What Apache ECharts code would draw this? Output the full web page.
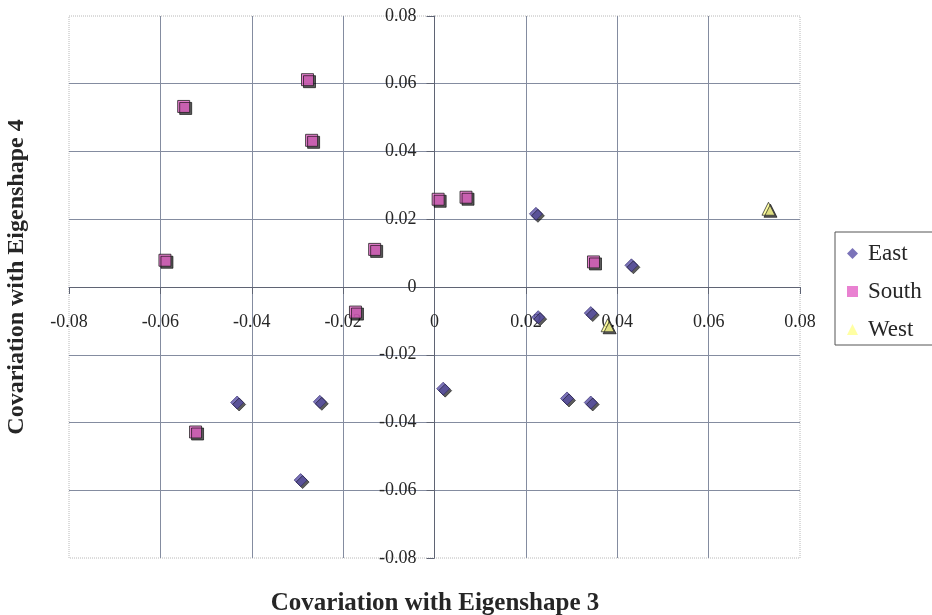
<!DOCTYPE html>
<html>
<head>
<meta charset="utf-8">
<script src="https://cdn.jsdelivr.net/npm/echarts@6/dist/echarts.min.js"></script>
<style>
  html, body { margin: 0; padding: 0; background: #fff; }
  #chart { width: 932px; height: 615px; }
</style>
</head>
<body>
<div id="chart"></div>
<script>
// Covariation scores per region: [eigenshape 3, eigenshape 4]
const eastPoints = [
  [0.0222, 0.0216], [0.0431, 0.0064], [0.0227, -0.0089], [0.0342, -0.0077],
  [0.0290, -0.0329], [0.0342, -0.0341], [0.0019, -0.0300], [-0.0432, -0.0341],
  [-0.0251, -0.0339], [-0.0293, -0.0570]
];
const southPoints = [
  [-0.0549, 0.0533], [-0.0278, 0.0612], [-0.0269, 0.0433], [-0.0590, 0.0079],
  [-0.0131, 0.0111], [0.0008, 0.0259], [0.0069, 0.0265], [0.0348, 0.0074],
  [-0.0173, -0.0074], [-0.0523, -0.0428]
];
const westPoints = [
  [0.0731, 0.0231], [0.0379, -0.0113]
];
const seriesNames = ['East', 'South', 'West'];
const axisMin = -0.08, axisMax = 0.08, axisStep = 0.02;
const xTitle = 'Covariation with Eigenshape 3';
const yTitle = 'Covariation with Eigenshape 4';

const serif = '"Liberation Serif", "Times New Roman", serif';
const gridLineColor = '#848ca0';
const axisColor = '#5f6474';
const textColor = '#262626';

// plot box
const plot = { left: 69, top: 16, width: 731, height: 542 };
// the axes cross at zero: shift each axis inward from its edge to the zero line
const zeroFrac = (0 - axisMin) / (axisMax - axisMin);
const yAxisShift = -plot.width * zeroFrac;
const xAxisShift = -plot.height * zeroFrac;

const shadow = { shadowColor: 'rgba(0,0,0,0.8)', shadowBlur: 0, shadowOffsetX: 2, shadowOffsetY: 2 };
const fmt = v => (Math.abs(v) < 1e-9 ? '0' : String(+v.toFixed(2)));

function valueAxis(extra) {
  return Object.assign({
    type: 'value',
    min: axisMin,
    max: axisMax,
    interval: axisStep,
    axisLine: { show: true, onZero: false, lineStyle: { color: axisColor, width: 1 } },
    splitLine: { show: true, showMinLine: false, showMaxLine: false, lineStyle: { color: gridLineColor, width: 1 } }
  }, extra);
}

const chart = echarts.init(document.getElementById('chart'), null, { renderer: 'canvas' });

chart.setOption({
  backgroundColor: '#ffffff',
  animation: false,
  grid: {
    show: true,
    left: plot.left, top: plot.top, width: plot.width, height: plot.height,
    borderColor: '#b8b8b8', borderWidth: 1, borderType: 'dotted',
    backgroundColor: 'transparent'
  },
  xAxis: valueAxis({
    position: 'bottom',
    offset: xAxisShift,
    axisTick: { show: true, length: 7, lineStyle: { color: axisColor } },
    axisLabel: {
      fontFamily: serif, fontSize: 18, color: textColor, margin: 26,
      showMinLabel: true, showMaxLabel: true, hideOverlap: false, formatter: fmt
    }
  }),
  yAxis: valueAxis({
    position: 'left',
    offset: yAxisShift,
    axisTick: { show: true, length: 8, lineStyle: { color: axisColor } },
    axisLabel: {
      fontFamily: serif, fontSize: 18, color: textColor, margin: 18,
      showMinLabel: true, showMaxLabel: true, hideOverlap: false, formatter: fmt
    }
  }),
  legend: {
    orient: 'vertical',
    left: 835, top: 232,
    padding: [10, 60, 4, 12],
    itemGap: 15,
    itemWidth: 11, itemHeight: 11,
    borderColor: '#555', borderWidth: 1,
    backgroundColor: '#fff',
    itemStyle: { shadowColor: 'transparent', shadowOffsetX: 0, shadowOffsetY: 0, shadowBlur: 0, borderWidth: 0 },
    textStyle: { fontFamily: serif, fontSize: 23, color: textColor, lineHeight: 23, padding: [0, 0, 0, 5] },
    data: seriesNames
  },
  graphic: [
    {
      type: 'text',
      x: 17, y: 277,
      rotation: Math.PI / 2,
      style: {
        text: yTitle, fontFamily: serif, fontSize: 24, fontWeight: 'bold',
        fill: textColor, align: 'center', verticalAlign: 'middle'
      }
    },
    {
      type: 'text',
      x: 435, y: 604,
      style: {
        text: xTitle, fontFamily: serif, fontSize: 25, fontWeight: 'bold',
        fill: textColor, align: 'center', verticalAlign: 'middle'
      }
    }
  ],
  series: [
    {
      name: seriesNames[0], type: 'scatter', data: eastPoints,
      symbol: 'diamond', symbolSize: 13,
      itemStyle: Object.assign({ color: '#5a50a8', borderColor: '#2c2468', borderWidth: 0.8 }, shadow)
    },
    {
      name: seriesNames[1], type: 'scatter', data: southPoints,
      symbol: 'rect', symbolSize: 12,
      itemStyle: Object.assign({ color: '#e462c6', borderColor: '#222', borderWidth: 1 }, shadow)
    },
    {
      name: seriesNames[2], type: 'scatter', data: westPoints,
      symbol: 'triangle', symbolSize: 13,
      itemStyle: Object.assign({ color: '#ffff8c', borderColor: '#333', borderWidth: 1 }, shadow)
    }
  ]
});
</script>
</body>
</html>
